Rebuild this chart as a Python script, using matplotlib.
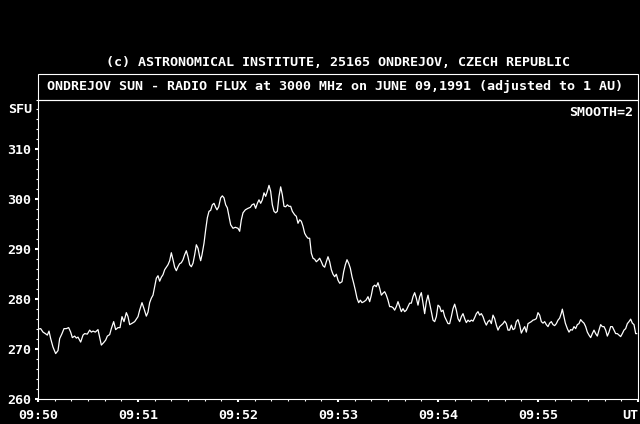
import matplotlib
matplotlib.use("Agg")
from matplotlib import pyplot as plt
from matplotlib.patches import Rectangle
from matplotlib.ticker import FixedLocator, MultipleLocator

# seconds after 09:50 UT and radio flux (SFU)
secs_50 = [0, 1.6, 3, 4.4, 5.6, 6.6, 7.6, 9, 10.6, 12, 13, 14.4, 15.6, 17, 18.4,
           19.6, 20.6, 22, 23, 24, 25.6, 27, 28, 29.6, 31, 32, 33, 34.4, 36, 37,
           38, 39.4, 40.6, 41.6, 43, 44, 45.4, 46.6, 48, 49.2, 50.4, 51.6, 53, 54,
           55, 56.6, 58]
sfu_50 = [274.0, 274.1, 273.4, 273.1, 272.8, 273.6, 272.1, 270.4, 269.1, 269.7,
          272.1, 273.1, 274.1, 274.1, 274.3, 273.4, 272.3, 272.6, 272.2, 272.4,
          271.4, 272.8, 273.1, 273.0, 273.8, 273.4, 273.6, 273.4, 273.9, 272.4,
          270.8, 271.3, 271.8, 272.6, 272.9, 274.1, 275.5, 273.9, 274.3, 274.3,
          276.5, 275.5, 277.3, 276.5, 274.9, 275.2, 275.5]

secs_51 = [60, 61, 62.4, 63.6, 65, 66, 67, 68, 69, 70, 71, 72, 73, 74, 75, 76, 77,
           78, 79, 80, 81, 82, 83, 84, 85, 86, 87, 88, 89, 90, 91, 92, 93, 94, 95,
           96, 97, 97.6, 98.4, 99.6, 100.6, 101.6, 102.6, 103.6, 104.6, 105.6,
           106.6, 107.4, 108.4, 109.6, 110.6, 111.6, 112.6, 113.6, 114.6, 115.6,
           117, 118.4]
sfu_51 = [276.5, 277.8, 279.3, 278.1, 276.6, 277.4, 279.3, 280.2, 280.8, 282.5,
          284.2, 284.7, 283.6, 284.4, 284.9, 285.9, 286.4, 286.9, 287.7, 289.3,
          287.9, 286.4, 285.7, 286.5, 287.1, 287.3, 287.9, 288.9, 289.7, 288.5,
          286.9, 286.5, 287.2, 288.9, 290.9, 290.2, 288.5, 287.7, 288.9, 291.2,
          293.9, 296.3, 297.6, 297.8, 298.9, 299.2, 298.4, 297.9, 298.5, 300.3,
          300.7, 300.3, 298.9, 298.3, 296.6, 294.9, 294.2, 294.4]

secs_52 = [120, 121, 122, 123, 124.4, 126, 127.4, 128.4, 129.6, 130.6, 131.6,
           132.6, 133.6, 134.6, 135.6, 136.6, 137.6, 138.6, 139.6, 140.6, 141.6,
           142.6, 143.6, 144.6, 145.6, 146.6, 147.6, 148.6, 149.6, 150.6, 151.6,
           152.6, 154, 155, 156, 157, 158, 159, 160, 161, 162, 163, 164, 165, 166,
           167, 168, 169, 170, 171, 172, 173, 174, 175, 176, 177, 178, 179]
sfu_52 = [294.2, 293.6, 295.9, 297.3, 297.9, 298.2, 298.4, 298.9, 299.1, 298.2,
          299.2, 299.9, 299.2, 299.9, 301.3, 300.6, 301.6, 302.8, 301.6, 298.9,
          297.6, 297.3, 297.6, 300.6, 302.5, 300.9, 298.6, 298.5, 298.9, 298.6,
          298.6, 297.6, 296.9, 296.6, 295.2, 295.9, 295.6, 294.6, 293.2, 292.6,
          292.2, 292.2, 289.2, 288.2, 288.0, 287.5, 287.8, 288.2, 287.5, 286.7,
          286.4, 287.5, 288.5, 287.5, 285.9, 285.0, 284.5, 285.0]

secs_53 = [180, 181, 182.4, 183.4, 184.4, 185.4, 186.4, 187.4, 188.4, 189.4, 190.4,
           191.4, 192.4, 193.4, 194.4, 195.6, 196.8, 198, 199, 200, 201, 202, 203,
           204, 205, 206, 207, 208, 209, 210, 211, 212, 213, 214, 215, 216, 217,
           218, 219, 220, 221, 222, 223, 224, 225, 226, 227, 228, 229, 230, 231,
           232, 233, 234, 235, 236, 237, 238, 239]
sfu_53 = [283.8, 283.2, 283.5, 285.5, 286.9, 287.9, 287.2, 286.2, 284.5, 283.2,
          281.8, 280.2, 279.3, 279.8, 279.3, 279.5, 279.8, 280.5, 279.5, 280.8,
          282.5, 282.8, 282.5, 283.3, 282.2, 280.8, 281.2, 281.5, 280.8, 279.8,
          278.5, 278.5, 278.3, 277.8, 278.5, 279.5, 278.5, 277.5, 278.1, 277.5,
          277.8, 278.5, 279.2, 279.2, 280.5, 281.3, 280.2, 278.8, 280.5, 281.3,
          279.2, 277.1, 279.5, 280.8, 279.2, 277.5, 275.8, 275.5, 276.5]

secs_54 = list(range(240, 300))
sfu_54 = [278.8, 278.5, 277.5, 277.8, 276.5, 275.8, 275.1, 275.1, 276.5, 278.1,
          279.0, 277.8, 276.1, 275.5, 276.5, 277.1, 276.1, 275.3, 275.8, 275.5,
          275.8, 275.6, 276.3, 277.1, 277.5, 276.8, 277.1, 276.5, 275.5, 274.8,
          275.5, 275.8, 275.1, 276.8, 276.1, 274.8, 273.8, 274.5, 274.8, 275.1,
          275.6, 275.1, 273.8, 273.8, 274.8, 273.9, 274.1, 275.5, 275.9, 274.8,
          273.2, 273.9, 274.5, 273.4, 275.1, 275.3, 275.5, 275.8, 275.9, 276.1]

secs_55 = [300, 301, 302, 303, 304, 305, 306, 307, 308, 309, 310, 311, 312, 313,
           314, 314.6, 315.4, 316.4, 317.6, 318.6, 319.6, 320.6, 321.6, 322.6,
           323.6, 324.6, 325.6, 326.6, 327.6, 328.6, 329.6, 330.6, 331.6, 332.6,
           333.6, 334.6, 335.6, 336.6, 337.6, 338.6, 339.6, 340.6, 341.6, 342.6,
           343.6, 344.6, 345.6, 346.6, 347.6, 348.6, 349.6, 350.6, 351.6, 352.6,
           353.6, 354.6, 355.6, 356.6, 357.6, 358.6, 359.2]
sfu_55 = [277.3, 276.8, 275.5, 275.2, 275.5, 274.9, 274.5, 275.2, 275.5, 274.9,
          274.7, 275.1, 275.8, 276.2, 277.2, 278.0, 276.8, 275.2, 274.1, 273.4,
          273.9, 273.8, 274.5, 274.1, 274.9, 275.1, 275.9, 275.5, 275.2, 274.5,
          273.4, 272.8, 272.3, 273.1, 273.8, 273.1, 272.6, 273.8, 274.9, 274.5,
          274.5, 273.8, 272.6, 273.4, 274.5, 274.5, 273.8, 273.1, 273.1, 272.8,
          272.5, 273.1, 273.8, 274.1, 275.1, 275.5, 276.0, 275.2, 274.9, 273.1,
          273.1]

tick_secs = [0, 60, 120, 180, 240, 300, 360]
tick_labels = ["09:50", "09:51", "09:52", "09:53", "09:54", "09:55", "UT"]

header = "(c) ASTRONOMICAL INSTITUTE, 25165 ONDREJOV, CZECH REPUBLIC"
title = "ONDREJOV SUN - RADIO FLUX at 3000 MHz on JUNE 09,1991 (adjusted to 1 AU)"

secs = secs_50 + secs_51 + secs_52 + secs_53 + secs_54 + secs_55
sfu = sfu_50 + sfu_51 + sfu_52 + sfu_53 + sfu_54 + sfu_55

plt.rcParams['font.family'] = 'DejaVu Sans Mono'
plt.rcParams['font.size'] = 9.6
plt.rcParams['font.weight'] = 'bold'

fig = plt.figure(figsize=(6.4, 4.24), dpi=100, facecolor='black')
W, H = 640, 424
left, right, top, bottom = 38, 638, 99.5, 399
ax = fig.add_axes([left / W, (H - bottom) / H, (right - left) / W, (bottom - top) / H])
ax.set_facecolor('black')

ax.plot(secs, sfu, color='white', lw=0.9)

ax.set_xlim(0, 360)
ax.set_ylim(260, 320)

ax.xaxis.set_major_locator(FixedLocator(tick_secs))
ax.set_xticklabels(tick_labels)
ax.get_xticklabels()[-1].set_ha('right')
ax.xaxis.set_minor_locator(MultipleLocator(10))
ax.yaxis.set_major_locator(FixedLocator([260, 270, 280, 290, 300, 310]))
ax.yaxis.set_minor_locator(MultipleLocator(2))

ax.tick_params(which='major', direction='out', length=2.4, width=1.5,
               colors='white', pad=2.5)
ax.tick_params(which='minor', direction='out', length=1.6, width=0.8, colors='white')
ax.tick_params(axis='x', which='major', pad=5)
for s in ax.spines.values():
    s.set_color('white')
    s.set_linewidth(0.8)

ax.annotate("SFU", xy=(0, 318), xycoords=ax.get_yaxis_transform(),
            xytext=(-4.5, 0), textcoords='offset points',
            ha='right', va='center', color='white')
ax.text(1 - 5 / 600, 1 - 7 / 300, "SMOOTH=2", transform=ax.transAxes,
        ha='right', va='top', color='white')

# header and boxed title above the plot
fig.text(338 / W, 1 - 63 / H, header, ha='center', va='center', color='white')
fig.add_artist(Rectangle((left / W, (H - top) / H), (right - left) / W, 25.5 / H,
                         transform=fig.transFigure, fill=False,
                         edgecolor='white', lw=0.8))
fig.text(335 / W, 1 - 86.5 / H, title, ha='center', va='center', color='white')

fig.savefig("out.png", dpi=100, facecolor='black')
